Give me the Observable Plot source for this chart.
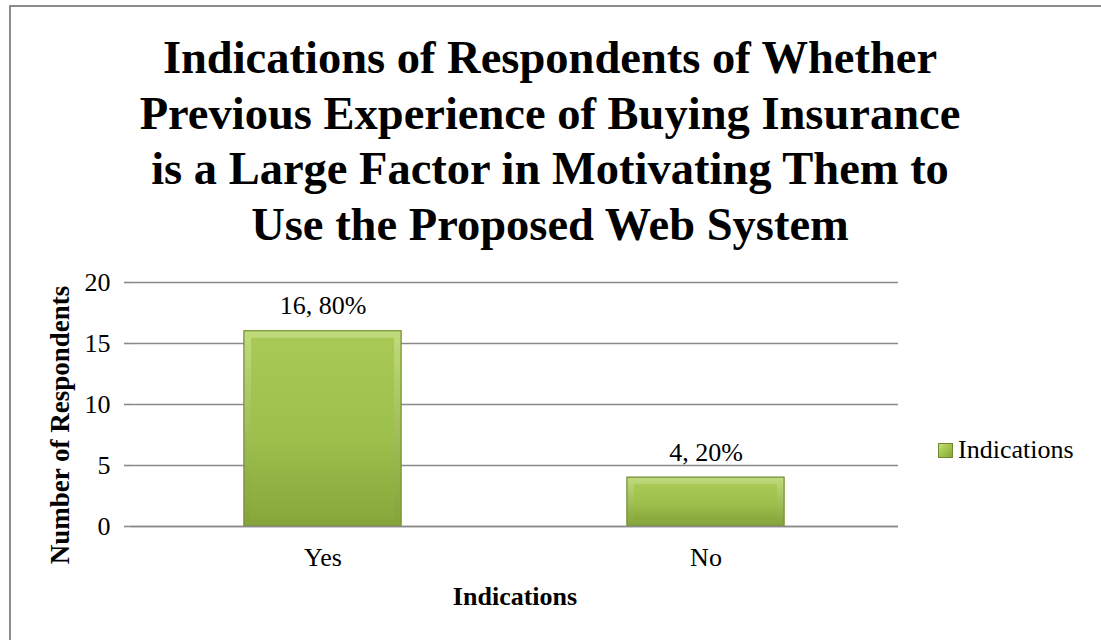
<!DOCTYPE html>
<html>
<head>
<meta charset="utf-8">
<script src="https://cdn.jsdelivr.net/npm/d3@7"></script>
<script src="https://cdn.jsdelivr.net/npm/@observablehq/plot@0.6"></script>
<style>
  html, body { margin: 0; padding: 0; background: #fff; overflow: hidden; }
  #wrap { position: relative; width: 1101px; height: 640px; overflow: hidden; font-family: "Liberation Serif", "Times New Roman", serif; }
  #border { position: absolute; left: 9px; top: 5px; width: 2000px; height: 2000px; border: 2px solid #8c8c8c; }
  #title { position: absolute; left: 10px; width: 1080px; top: 30px; text-align: center; font-weight: bold; font-size: 46.5px; line-height: 55.5px; color: #000; }
  #chart { position: absolute; left: 0; top: 250px; }
  #ytitle { position: absolute; left: 60px; top: 425px; transform: translate(-50%, -50%) rotate(-90deg); white-space: nowrap; font-weight: bold; font-size: 27px; color: #000; }
  #xtitle { position: absolute; left: 515px; top: 583px; transform: translateX(-50%); white-space: nowrap; font-weight: bold; font-size: 26px; line-height: 28px; color: #000; }
  #legend { position: absolute; left: 938px; top: 435px; display: flex; align-items: center; font-size: 26px; color: #000; white-space: nowrap; }
  #legend .sw { width: 15px; height: 15px; margin-right: 5px; box-sizing: border-box; border: 1px solid #6f8a2f;
    background: linear-gradient(135deg, #c3dd80 0%, #a5c650 45%, #86a53a 100%); }
</style>
</head>
<body>
<div id="wrap">
  <div id="border"></div>
  <div id="title">Indications of Respondents of Whether<br>Previous Experience of Buying Insurance<br>is a Large Factor in Motivating Them to<br>Use the Proposed Web System</div>
  <div id="chart"></div>
  <div id="ytitle">Number of Respondents</div>
  <div id="xtitle">Indications</div>
  <div id="legend"><div class="sw"></div><span>Indications</span></div>
</div>
<script>
const categories = ["Yes", "No"];
const counts = [16, 4];
const labels = ["16, 80%", "4, 20%"];
const yTicks = [0, 5, 10, 15, 20];

const data = categories.map((c, i) => ({ category: c, value: counts[i], label: labels[i] }));

const defs = () => {
  const g = d3.create("svg:defs");
  const outer = g.append("linearGradient").attr("id", "barOuter").attr("x1", 0).attr("y1", 0).attr("x2", 0).attr("y2", 1);
  outer.append("stop").attr("offset", "0%").attr("stop-color", "#c0db7c");
  outer.append("stop").attr("offset", "100%").attr("stop-color", "#84a339");
  const inner = g.append("linearGradient").attr("id", "barInner").attr("x1", 0).attr("y1", 0).attr("x2", 0).attr("y2", 1);
  inner.append("stop").attr("offset", "0%").attr("stop-color", "#a8c955");
  inner.append("stop").attr("offset", "55%").attr("stop-color", "#9dbf4b");
  inner.append("stop").attr("offset", "100%").attr("stop-color", "#88a83c");
  const f = g.append("filter").attr("id", "shadow").attr("x", "-10%").attr("y", "-10%").attr("width", "120%").attr("height", "130%");
  f.append("feDropShadow").attr("dx", 0).attr("dy", 3).attr("stdDeviation", 2.5).attr("flood-color", "#000").attr("flood-opacity", 0.35);
  return g.node();
};

const plot = Plot.plot({
  width: 1101,
  height: 390,
  marginLeft: 131,
  marginRight: 203,
  marginTop: 32,
  marginBottom: 114,
  style: { fontFamily: "'Liberation Serif', 'Times New Roman', serif", fontSize: "26px", color: "#000", background: "transparent", overflow: "visible" },
  x: { domain: categories, paddingInner: 0.59, paddingOuter: 0.295, label: null },
  y: { domain: [0, 20], ticks: yTicks, label: null },
  marks: [
    defs,
    Plot.gridY(yTicks, { stroke: "#8a8a8a", strokeOpacity: 1, strokeWidth: 1.6 }),
    Plot.axisY({ ticks: yTicks, tickSize: 7, tickPadding: 14, stroke: "#8a8a8a", strokeWidth: 1.6, fontSize: 26, label: null }),
    Plot.ruleX([0], { frameAnchor: "left", stroke: "#8a8a8a", strokeWidth: 1.6 }),
    Plot.axisX({ tickSize: 0, tickPadding: 21, fontSize: 26, label: null }),
    Plot.barY(data, { x: "category", y: "value", fill: "url(#barOuter)", stroke: "#748f33", strokeWidth: 1, style: "filter:url(#shadow)" }),
    Plot.barY(data, { x: "category", y: "value", fill: "url(#barOuter)", stroke: "#748f33", strokeWidth: 1 }),
    Plot.barY(data, { x: "category", y: "value", fill: "url(#barInner)", insetLeft: 7, insetRight: 7, insetTop: 7, insetBottom: 6 }),
    Plot.ruleY([0], { stroke: "#8a8a8a", strokeWidth: 1.6 }),
    Plot.text(data, { x: "category", y: "value", text: "label", lineAnchor: "bottom", dy: -17, fontSize: 26, fill: "#000" })
  ]
});
document.getElementById("chart").appendChild(plot);
</script>
</body>
</html>
